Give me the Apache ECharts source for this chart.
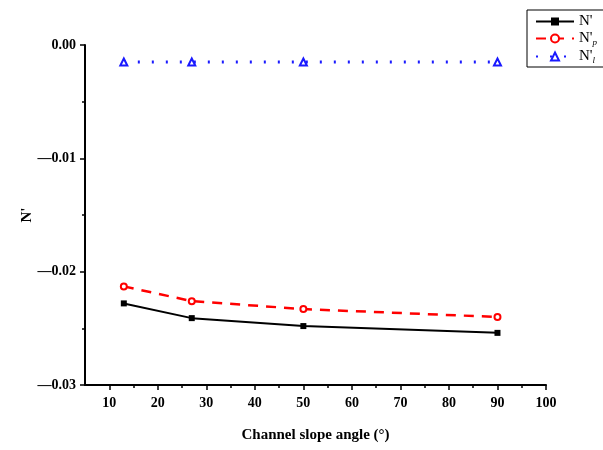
<!DOCTYPE html>
<html>
<head>
<meta charset="utf-8">
<script src="https://cdn.jsdelivr.net/npm/echarts@6/dist/echarts.min.js"></script>
<style>html,body{margin:0;padding:0;background:#fff}#c{width:603px;height:450px}</style>
</head>
<body>
<div id="c"></div>
<script>
// Channel slope angles (degrees)
const angles = [13, 27, 50, 90];
// Normalised force components
const nTotal = [-0.0228, -0.0241, -0.0248, -0.0254];
const nP = [-0.0213, -0.0226, -0.0233, -0.0240];
const nL = [-0.0015, -0.0015, -0.0015, -0.0015];
const xTicks = [10, 20, 30, 40, 50, 60, 70, 80, 90, 100];
const xMinorTicks = [15, 25, 35, 45, 55, 65, 75, 85, 95];
const yTicks = ['0.00', '\u20140.01', '\u20140.02', '\u20140.03'];

const pairs = (xs, ys) => xs.map((x, i) => [x, ys[i]]);
const serif = '"Liberation Serif", "DejaVu Serif", serif';

const chart = echarts.init(document.getElementById('c'));
chart.setOption({
  animation: false,
  backgroundColor: '#fff',
  grid: { left: 85, right: 57, top: 45, bottom: 65 },
  legend: {
    orient: 'vertical',
    left: 527, top: 10,
    padding: [4, 20, 2, 8],
    itemGap: 2,
    itemWidth: 38, itemHeight: 10,
    borderColor: '#000', borderWidth: 1,
    backgroundColor: '#fff',
    textStyle: {
      fontFamily: serif, fontSize: 15, color: '#000',
      rich: {
        n: { fontFamily: serif, fontSize: 15, color: '#000' },
        s: { fontFamily: serif, fontSize: 9, fontStyle: 'italic', color: '#000', verticalAlign: 'bottom', padding: [8, 0, 0, 0] }
      }
    },
    formatter: function (name) {
      if (name === "N'p") return "{n|N'}{s|p}";
      if (name === "N'l") return "{n|N'}{s|l}";
      return "{n|N'}";
    },
    data: ["N'", "N'p", "N'l"]
  },
  xAxis: [
    {
      type: 'value', min: 5, max: 100,
      name: 'Channel slope angle (\u00b0)',
      nameLocation: 'middle', nameGap: 43,
      nameTextStyle: { fontFamily: serif, fontSize: 15, fontWeight: 'bold', color: '#000' },
      axisLine: { show: true, onZero: false, lineStyle: { color: '#000', width: 2 } },
      axisTick: { show: true, length: 5, lineStyle: { color: '#000', width: 1.5 }, customValues: xTicks },
      axisLabel: { fontFamily: serif, fontSize: 14, fontWeight: 'bold', color: '#000', margin: 11, customValues: xTicks },
      splitLine: { show: false }
    },
    {
      // carries only the short ticks at the 5-degree marks
      type: 'value', min: 5, max: 100, position: 'bottom',
      axisLine: { show: false, onZero: false },
      axisTick: { show: true, length: 3, lineStyle: { color: '#000', width: 1.5 }, customValues: xMinorTicks },
      axisLabel: { show: false },
      splitLine: { show: false }
    }
  ],
  yAxis: {
    type: 'value', min: -0.03, max: 0, interval: 0.01,
    name: "N'", nameLocation: 'middle', nameGap: 50, nameRotate: 90,
    nameMoveOverlap: false,
    nameTextStyle: { fontFamily: serif, fontSize: 15, fontWeight: 'bold', color: '#000' },
    axisLine: { show: true, lineStyle: { color: '#000', width: 2 } },
    axisTick: { show: true, length: 5, lineStyle: { color: '#000', width: 1.5 } },
    minorTick: { show: true, splitNumber: 2, length: 3, lineStyle: { color: '#000', width: 1.5 } },
    axisLabel: {
      fontFamily: serif, fontSize: 14, fontWeight: 'bold', color: '#000', margin: 9,
      formatter: function (v) { const i = Math.round(-v * 100); return yTicks[i]; }
    },
    splitLine: { show: false }
  },
  series: [
    {
      name: "N'", type: 'line', data: pairs(angles, nTotal),
      symbol: 'rect', symbolSize: 6,
      itemStyle: { color: '#000' },
      lineStyle: { color: '#000', width: 2 }
    },
    {
      name: "N'p", type: 'line', data: pairs(angles, nP),
      symbol: 'emptyCircle', symbolSize: 6,
      itemStyle: { color: '#ff0000', borderWidth: 1.2 },
      lineStyle: { color: '#ff0000', width: 2.5, type: [10, 8] }
    },
    {
      name: "N'l", type: 'line', data: pairs(angles, nL),
      symbol: 'emptyTriangle', symbolSize: 7,
      itemStyle: { color: '#1a1aff', borderWidth: 1.2 },
      lineStyle: { color: '#1a1aff', width: 3, type: [2, 12] }
    }
  ]
});
</script>
</body>
</html>
